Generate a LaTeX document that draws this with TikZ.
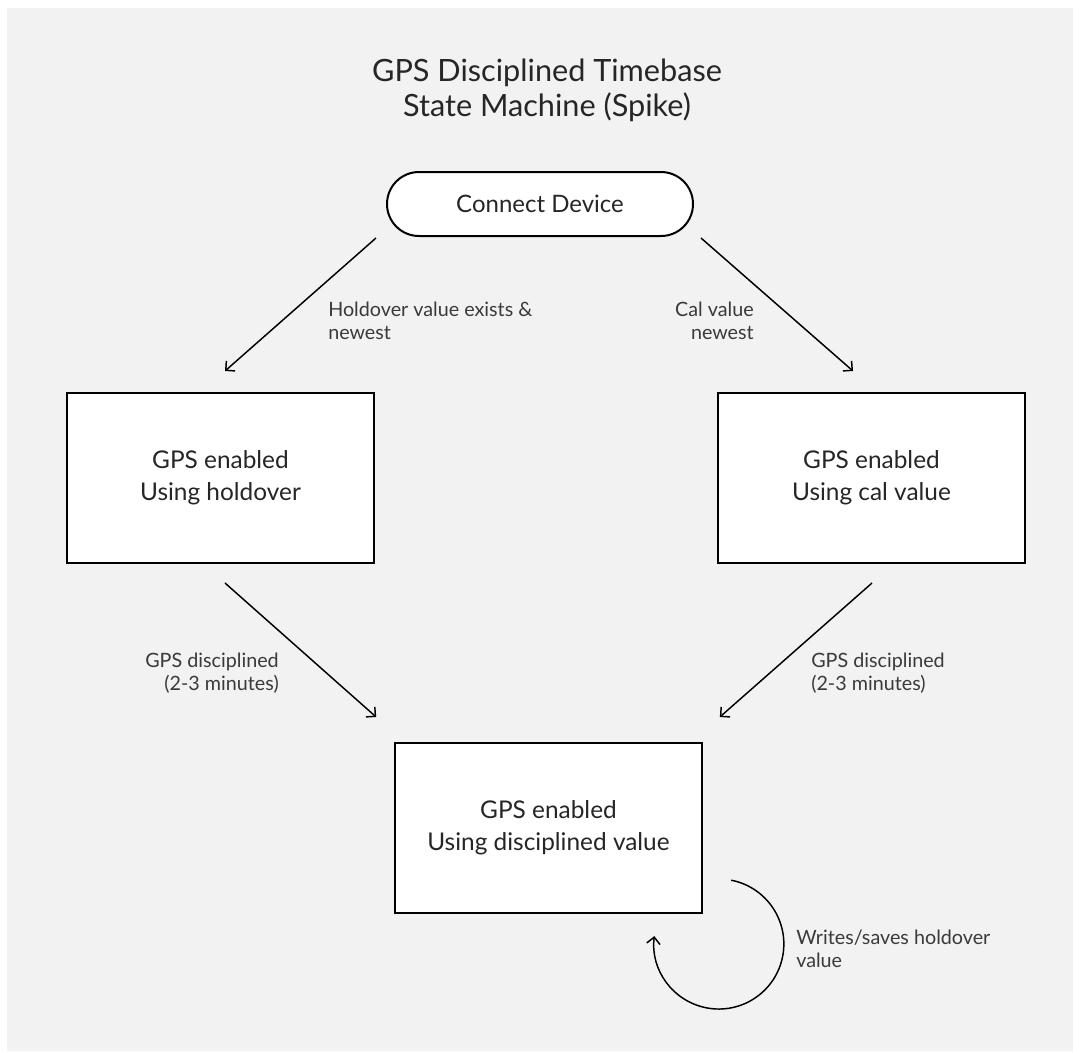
\documentclass[tikz,border=0pt]{standalone}
\usepackage{fontspec}
\setmainfont{Lato}
\usetikzlibrary{arrows.meta,calc}
\definecolor{panel}{HTML}{F2F2F2}
\definecolor{ink}{HTML}{262626}
\definecolor{labelink}{HTML}{3A3A3A}
\begin{document}
\begin{tikzpicture}[x=0.75pt,y=-0.75pt,
  state/.style={draw=black, line width=1.5pt, fill=white, minimum width=230pt, minimum height=127.5pt,
    align=center, font=\fontsize{18.3}{24}\selectfont, text=ink, inner sep=0pt},
  startbox/.style={draw=black, line width=1.5pt, fill=white, rounded corners=24pt,
    minimum width=229.5pt, minimum height=48pt, font=\fontsize{18}{24}\selectfont, text=ink},
  titletext/.style={align=center, font=\fontsize{23}{26.25}\selectfont, text=ink},
  edge/.style={line width=1.1pt, -{Straight Barb[length=5pt,width=10pt]}},
  lbl/.style={font=\fontsize{14.8}{17.25}\selectfont, text=labelink, inner sep=0pt}
]
\path[fill=white] (0,0) rectangle (1073,1051);
\path[fill=panel] (7,8) rectangle (1073,1051);

\node[titletext] (title) at (547,90) {GPS Disciplined Timebase\\State Machine (Spike)};
\node[startbox] (conn) at (540,204) {Connect Device};
\node[state] (hold) at (220.5,478) {GPS enabled\\Using holdover};
\node[state] (cal) at (871.5,478) {GPS enabled\\Using cal value};
\node[state] (disc) at (548.5,828) {GPS enabled\\Using disciplined value};

\draw[edge] ($(conn.south west)+(-10,1)$) -- ($(hold.north)+(4.5,-21)$);
\draw[edge] ($(conn.south east)+(7,1)$) -- ($(cal.north)+(-18.5,-21)$);
\draw[edge] ($(hold.south)+(4.5,19)$) -- ($(disc.north west)+(-18,-25)$);
\draw[edge] ($(cal.south)+(0.5,19)$) -- ($(disc.north east)+(17,-25)$);
\coordinate (loopc) at ($(disc.south east)+(16,30)$);
\draw[edge] ($(loopc)+(79:48.75pt)$) arc[start angle=79, end angle=-187, radius=48.75pt];

\node[lbl, anchor=west, align=left] (l1) at (328,321) {Holdover value exists \&\\newest};
\node[lbl, anchor=east, align=right] (l2) at (754,321) {Cal value\\newest};
\node[lbl, anchor=east, align=right] (l3) at (279,673) {GPS disciplined\\(2-3 minutes)};
\node[lbl, anchor=west, align=left] (l4) at (811,673) {GPS disciplined\\(2-3 minutes)};
\node[lbl, anchor=west, align=left] (l5) at (796,949) {Writes/saves holdover\\value};
\end{tikzpicture}
\end{document}
